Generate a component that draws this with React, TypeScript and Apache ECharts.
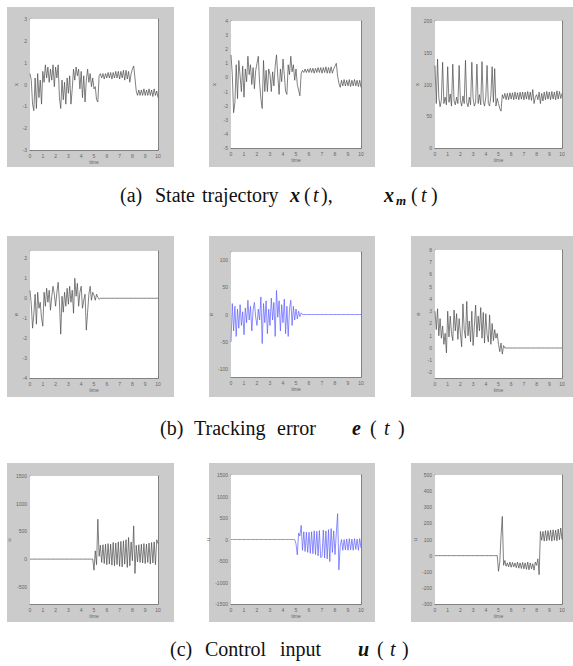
import React, { useEffect, useRef } from 'react';
import * as echarts from 'echarts';

const TIME = [
  0, 0.1, 0.2, 0.3, 0.4, 0.5, 0.6, 0.7, 0.8, 0.9,
  1, 1.1, 1.2, 1.3, 1.4, 1.5, 1.6, 1.7, 1.8, 1.9,
  2, 2.1, 2.2, 2.3, 2.4, 2.5, 2.6, 2.7, 2.8, 2.9,
  3, 3.1, 3.2, 3.3, 3.4, 3.5, 3.6, 3.7, 3.8, 3.9,
  4, 4.1, 4.2, 4.3, 4.4, 4.5, 4.6, 4.7, 4.8, 4.9,
  5, 5.1, 5.2, 5.3, 5.4, 5.5, 5.6, 5.7, 5.8, 5.9,
  6, 6.1, 6.2, 6.3, 6.4, 6.5, 6.6, 6.7, 6.8, 6.9,
  7, 7.1, 7.2, 7.3, 7.4, 7.5, 7.6, 7.7, 7.8, 7.9,
  8, 8.1, 8.2, 8.3, 8.4, 8.5, 8.6, 8.7, 8.8, 8.9,
  9, 9.1, 9.2, 9.3, 9.4, 9.5, 9.6, 9.7, 9.8, 9.9,
  10,
];

const X_TICKS = [0, 1, 2, 3, 4, 5, 6, 7, 8, 9, 10];

// (a) state trajectory
const STATE_1 = [
  0.5, 0.2, -0.9, -1.2, 0.3, -1.1, 0.5, -0.6, 0.2, -0.9,
  0.6, 0.1, 0.9, 0.3, 0.8, 0.1, 0.7, 0.2, 0.9, -0.1,
  0.8, 0.3, 0.9, -0.6, -1.1, 0.2, -0.7, 0.1, -0.9, 0.3,
  -0.4, 0.4, -0.9, -0.2, 0.7, 0.2, 0.8, 0.4, 0.7, -0.2,
  0.6, -0.6, 0.4, -0.8, 0.2, 0.7, 0.1, 0.5, -0.1, 0.3,
  -0.2, -0.1, -0.7, -0.8, 0.4, 0.5, 0.3, 0.5, 0.25, 0.5,
  0.3, 0.55, 0.3, 0.55, 0.25, 0.55, 0.3, 0.6, 0.3, 0.6,
  0.25, 0.6, 0.3, 0.65, 0.2, 0.65, 0.25, 0.6, 0.1, 0.5,
  0.7, 0.85, 0.3, -0.3, -0.5, -0.25, -0.5, -0.25, -0.5, -0.2,
  -0.5, -0.25, -0.5, -0.2, -0.5, -0.25, -0.55, -0.2, -0.5, -0.3,
  -0.6,
];
const STATE_2 = [
  1.6, 0.2, -2.5, -1.8, 0.9, -1.5, 1.2, 0.1, -1.0, 0.8,
  -1.4, 0.6, -0.3, 1.5, 0.2, 0.9, -0.5, 0.7, -0.8, 0.5,
  1.0, 1.5, -0.4, -1.5, -2.2, 1.2, -1.0, 0.5, -1.0, 0.6,
  0.2, -1.0, 0.4, -0.6, 0.8, 1.6, 0.1, -1.2, 0.6, -0.3,
  1.3, 0.2, -1.0, -1.2, 0.9, 0.2, 1.5, 0.4, 0.9, -0.2,
  0.6, -0.5, -0.9, -1.3, 0.3, 0.5, 0.35, 0.6, 0.35, 0.6,
  0.35, 0.65, 0.35, 0.65, 0.3, 0.65, 0.35, 0.7, 0.35, 0.7,
  0.3, 0.7, 0.35, 0.75, 0.3, 0.7, 0.3, 0.75, 0.3, 0.6,
  0.8, 1.0, 0.1, -0.4, -0.7, -0.2, -0.6, -0.15, -0.6, -0.2,
  -0.6, -0.15, -0.65, -0.2, -0.6, -0.15, -0.6, -0.2, -0.65, -0.2,
  -0.7,
];
const STATE_3 = [
  130, 70, 140, 80, 65, 75, 135, 70, 80, 68,
  128, 72, 85, 66, 132, 74, 68, 80, 70, 130,
  75, 66, 82, 70, 138, 72, 65, 80, 68, 135,
  78, 66, 72, 132, 70, 84, 68, 136, 74, 66,
  80, 130, 70, 66, 82, 128, 72, 125, 66, 78,
  70, 62, 58, 84, 78, 86, 76, 86, 76, 87,
  77, 87, 76, 88, 77, 87, 76, 88, 77, 88,
  76, 88, 77, 89, 76, 88, 75, 92, 70, 80,
  84, 76, 88, 70, 86, 74, 88, 76, 89, 77,
  88, 76, 89, 77, 88, 76, 90, 77, 89, 78,
  86,
];

// (b) tracking error
const ERROR_1 = [
  0.4, -0.3, -1.5, -0.8, 0.2, -1.3, 0.3, -0.5, -0.2, -1.0,
  -1.4, 0.3, -0.4, 0.5, -0.2, 0.4, -0.6, 0.1, 0.6, 0.2,
  -0.4, 0.3, 0.8, -0.2, -1.8, 0.1, -0.7, 0.3, -0.4, 0.5,
  -0.3, 0.6, -0.2, 0.4, -0.75, 1.0, 0.1, 0.75, -0.4, 0.3,
  0.6, -0.5, -0.1, 0.2, -1.6, -0.7, 0.2, 0.6, -0.1, 0.3,
  0.15, -0.1, 0.2, 0.05, -0.05, 0, 0, 0, 0, 0,
  0, 0, 0, 0, 0, 0, 0, 0, 0, 0,
  0, 0, 0, 0, 0, 0, 0, 0, 0, 0,
  0, 0, 0, 0, 0, 0, 0, 0, 0, 0,
  0, 0, 0, 0, 0, 0, 0, 0, 0, 0,
  0,
];
const ERROR_2 = [
  -50, 20, -30, 15, -40, 10, -25, 18, -20, 5,
  -37, 12, -15, 26, -10, 15, -30, 8, 22, -5,
  -20, 10, -10, 32, -53, 20, -15, 25, -35, 10,
  -20, 30, -10, 22, -40, 44, -5, 25, -30, 18,
  -15, 28, -35, 15, -40, 10, 26, -20, 15, -10,
  10, -8, 6, -4, 3, 0, 0, 0, 0, 0,
  0, 0, 0, 0, 0, 0, 0, 0, 0, 0,
  0, 0, 0, 0, 0, 0, 0, 0, 0, 0,
  0, 0, 0, 0, 0, 0, 0, 0, 0, 0,
  0, 0, 0, 0, 0, 0, 0, 0, 0, 0,
  0,
];
const ERROR_3 = [
  3.0, 1.5, 3.2, 1.0, 2.4, 0.8, 1.8, 0.3, 1.2, -0.4,
  3.0, 0.9, 2.6, 1.2, 0.6, 3.1, 1.4, 2.8, 0.7, 2.4,
  1.2, 0.1, 3.6, 1.5, 0.8, 3.8, 1.0, 2.2, 0.5, 3.0,
  0.2, 1.8, 3.5, 0.9, 2.6, 1.4, 3.3, 0.8, 2.9, 0.4,
  2.8, 1.1, 0.5, 2.7, 0.3, 2.0, 0.6, 1.5, 0.8, 1.2,
  0.3, -0.3, 0.4, -0.5, 0.2, 0, 0, 0, 0, 0,
  0, 0, 0, 0, 0, 0, 0, 0, 0, 0,
  0, 0, 0, 0, 0, 0, 0, 0, 0, 0,
  0, 0, 0, 0, 0, 0, 0, 0, 0, 0,
  0, 0, 0, 0, 0, 0, 0, 0, 0, 0,
  0,
];

// (c) control input
const INPUT_1 = [
  0, 0, 0, 0, 0, 0, 0, 0, 0, 0,
  0, 0, 0, 0, 0, 0, 0, 0, 0, 0,
  0, 0, 0, 0, 0, 0, 0, 0, 0, 0,
  0, 0, 0, 0, 0, 0, 0, 0, 0, 0,
  0, 0, 0, 0, 0, 0, 0, 0, 0, 0,
  -200, 150, -100, 720, 50, 250, -60, 260, -80, 270,
  -100, 280, -90, 270, -110, 300, -120, 290, -100, 310,
  -130, 320, -140, 330, -90, 350, -150, 390, -120, 310,
  -30, 600, -260, 250, -50, 260, -60, 270, -70, 280,
  -80, 270, -60, 290, -90, 300, -70, 310, -100, 350,
  280,
];
const INPUT_2 = [
  0, 0, 0, 0, 0, 0, 0, 0, 0, 0,
  0, 0, 0, 0, 0, 0, 0, 0, 0, 0,
  0, 0, 0, 0, 0, 0, 0, 0, 0, 0,
  0, 0, 0, 0, 0, 0, 0, 0, 0, 0,
  0, 0, 0, 0, 0, 0, 0, 0, 0, 0,
  -100, -360, 150, 80, 330, -250, 180, -280, 170, -300,
  170, -320, 180, -330, 200, -350, 190, -380, 210, -420,
  -400, 220, -430, 200, -450, 230, -515, 254, -300, 200,
  -350, 150, 600, -708, -150, 0, -250, 0, -240, 10,
  -250, 20, -240, 10, -250, 20, -230, 10, -250, 20,
  -200,
];
const INPUT_3 = [
  0, 0, 0, 0, 0, 0, 0, 0, 0, 0,
  0, 0, 0, 0, 0, 0, 0, 0, 0, 0,
  0, 0, 0, 0, 0, 0, 0, 0, 0, 0,
  0, 0, 0, 0, 0, 0, 0, 0, 0, 0,
  0, 0, 0, 0, 0, 0, 0, 0, 0, 0,
  -97, -40, 120, 243, -60, -30, -66, -45, -70, -40,
  -72, -42, -70, -45, -75, -40, -78, -45, -80, -42,
  -82, -45, -85, -40, -88, -45, -82, -50, -90, -40,
  -60, -20, -118, 150, 95, 150, 90, 155, 92, 155,
  95, 158, 90, 160, 95, 158, 92, 165, 98, 171,
  100,
];

const Y_TICKS_1 = [-3, -2, -1, 0, 1, 2, 3];
const Y_TICKS_2 = [-5, -4, -3, -2, -1, 0, 1, 2, 3, 4];
const Y_TICKS_3 = [0, 50, 100, 150, 200];
const Y_TICKS_4 = [-4, -3, -2, -1, 0, 1, 2];
const Y_TICKS_5 = [-100, -50, 0, 50, 100];
const Y_TICKS_6 = [-2, -1, 0, 1, 2, 3, 4, 5, 6, 7, 8];
const Y_TICKS_7 = [-500, 0, 500, 1000, 1500];
const Y_TICKS_8 = [-1500, -1000, -500, 0, 500, 1000, 1500];
const Y_TICKS_9 = [-300, -200, -100, 0, 100, 200, 300, 400, 500];

const BLACK = '#4a4a4a';
const BLUE = '#5c5cff';

const PANELS = [
  { data: STATE_1, ticks: Y_TICKS_1, min: -3, max: 3, name: 'x', color: BLACK, grid: { left: 30, top: 19, width: 128, height: 131 }, nameGap: 10 },
  { data: STATE_2, ticks: Y_TICKS_2, min: -5, max: 4, name: 'x', color: BLACK, grid: { left: 231, top: 21, width: 130, height: 127 }, nameGap: 14 },
  { data: STATE_3, ticks: Y_TICKS_3, min: 0, max: 200, name: 'x', color: BLACK, grid: { left: 435, top: 21, width: 127, height: 127 }, nameGap: 15 },
  { data: ERROR_1, ticks: Y_TICKS_4, min: -4, max: 2.37, name: 'e', color: BLACK, grid: { left: 30, top: 251, width: 128, height: 127 }, nameGap: 10 },
  { data: ERROR_2, ticks: Y_TICKS_5, min: -114, max: 114, name: 'e', color: BLUE, grid: { left: 231, top: 252, width: 130, height: 125 }, nameGap: 13 },
  { data: ERROR_3, ticks: Y_TICKS_6, min: -2.45, max: 8, name: 'e', color: BLACK, grid: { left: 435, top: 250, width: 127, height: 128 }, nameGap: 14 },
  { data: INPUT_1, ticks: Y_TICKS_7, min: -810, max: 1500, name: 'u', color: BLACK, grid: { left: 30, top: 476, width: 128, height: 128 }, nameGap: 17 },
  { data: INPUT_2, ticks: Y_TICKS_8, min: -1500, max: 1500, name: 'u', color: BLUE, grid: { left: 231, top: 475, width: 130, height: 129 }, nameGap: 15 },
  { data: INPUT_3, ticks: Y_TICKS_9, min: -300, max: 500, name: 'u', color: BLACK, grid: { left: 435, top: 475, width: 127, height: 129 }, nameGap: 16 },
];

const BACKGROUNDS = [
  [7, 7, 167, 160], [209, 7, 166, 160], [411, 7, 162, 160],
  [7, 236, 167, 161], [209, 236, 166, 161], [411, 236, 162, 161],
  [7, 463, 167, 159], [209, 463, 166, 159], [411, 463, 162, 159],
];

const SERIF = '"Liberation Serif", "Times New Roman", serif';
const FS = 20;

type Piece = { t: string; x: number; y: number; w?: string; s?: string; size?: number };
const CAPTIONS: Piece[] = [
  { t: '(a)', x: 120, y: 195 },
  { t: 'State', x: 155, y: 195 },
  { t: 'trajectory', x: 202, y: 195 },
  { t: 'x', x: 290, y: 195, w: 'bold', s: 'italic' },
  { t: '(', x: 304, y: 195 },
  { t: 't', x: 313, y: 195, s: 'italic' },
  { t: '),', x: 321, y: 195 },
  { t: 'x', x: 384, y: 195, w: 'bold', s: 'italic' },
  { t: 'm', x: 396, y: 200, w: 'bold', s: 'italic', size: 13 },
  { t: '(', x: 411, y: 195 },
  { t: 't', x: 421, y: 195, s: 'italic' },
  { t: ')', x: 431, y: 195 },

  { t: '(b)', x: 160, y: 428 },
  { t: 'Tracking', x: 194, y: 428 },
  { t: 'error', x: 277, y: 428 },
  { t: 'e', x: 352, y: 428, w: 'bold', s: 'italic' },
  { t: '(', x: 370, y: 428 },
  { t: 't', x: 384, y: 428, s: 'italic' },
  { t: ')', x: 398, y: 428 },

  { t: '(c)', x: 170, y: 649 },
  { t: 'Control', x: 205, y: 649 },
  { t: 'input', x: 280, y: 649 },
  { t: 'u', x: 358, y: 649, w: 'bold', s: 'italic' },
  { t: '(', x: 377, y: 649 },
  { t: 't', x: 390, y: 649, s: 'italic' },
  { t: ')', x: 402, y: 649 },
];

const AXIS_COLOR = '#707070';
const LABEL_STYLE = { fontSize: 5, color: '#666', fontFamily: '"Liberation Sans", Arial, sans-serif' };
const fmt = (v: number) => String(v);

function buildOption() {
  const grid: any[] = [];
  const xAxis: any[] = [];
  const yAxis: any[] = [];
  const series: any[] = [];
  PANELS.forEach((p, i) => {
    grid.push({ ...p.grid, show: true, backgroundColor: '#ffffff', borderWidth: 0, z: 1 });
    const lineCommon = { show: true, onZero: false, lineStyle: { color: AXIS_COLOR, width: 0.8 } };
    const tickCommon = { show: true, inside: true, length: 2, lineStyle: { color: AXIS_COLOR, width: 0.6 } };
    xAxis.push({
      type: 'value', gridIndex: i, position: 'bottom', min: 0, max: 10, interval: 1,
      axisLine: lineCommon, axisTick: tickCommon,
      axisLabel: { ...LABEL_STYLE, margin: 3, customValues: X_TICKS, formatter: fmt },
      splitLine: { show: false },
      name: 'time', nameLocation: 'middle', nameGap: 9, nameTextStyle: { ...LABEL_STYLE },
    });
    xAxis.push({
      type: 'value', gridIndex: i, position: 'top', min: 0, max: 10, interval: 1,
      axisLine: lineCommon, axisTick: tickCommon, axisLabel: { show: false }, splitLine: { show: false },
    });
    yAxis.push({
      type: 'value', gridIndex: i, position: 'left', min: p.min, max: p.max,
      axisLine: lineCommon, axisTick: { ...tickCommon, customValues: p.ticks },
      axisLabel: { ...LABEL_STYLE, margin: 3, customValues: p.ticks, formatter: fmt, showMinLabel: true, showMaxLabel: true },
      splitLine: { show: false },
      name: p.name, nameLocation: 'middle', nameGap: p.nameGap, nameRotate: 90,
      nameTextStyle: { ...LABEL_STYLE, fontSize: 6 },
    });
    yAxis.push({
      type: 'value', gridIndex: i, position: 'right', min: p.min, max: p.max,
      axisLine: lineCommon, axisTick: { ...tickCommon, customValues: p.ticks },
      axisLabel: { show: false }, splitLine: { show: false },
    });
    series.push({
      type: 'line', xAxisIndex: 2 * i, yAxisIndex: 2 * i,
      data: TIME.map((t, k) => [t, p.data[k]]),
      showSymbol: false, symbol: 'none', silent: true, clip: true,
      lineStyle: { color: p.color, width: 0.7 },
      z: 3,
    });
  });

  const graphic: any[] = BACKGROUNDS.map(([x, y, w, h]) => ({
    type: 'rect', z: -10, silent: true,
    shape: { x, y, width: w, height: h },
    style: { fill: '#cbcbcb' },
  }));
  CAPTIONS.forEach((c) => {
    graphic.push({
      type: 'text', x: c.x, y: c.y, silent: true, z: 5,
      style: {
        text: c.t,
        font: `${c.s || 'normal'} ${c.w || 'normal'} ${c.size || FS}px ${SERIF}`,
        fill: '#111',
        textAlign: 'left', textVerticalAlign: 'middle',
        align: 'left', verticalAlign: 'middle',
      },
    });
  });

  return { animation: false, backgroundColor: '#ffffff', grid, xAxis, yAxis, series, graphic };
}

export default function App() {
  const ref = useRef<HTMLDivElement>(null);
  useEffect(() => {
    if (!ref.current) return;
    const chart = echarts.init(ref.current, undefined, { renderer: 'svg' });
    chart.setOption(buildOption() as any);
    return () => chart.dispose();
  }, []);
  return (
    <div
      ref={ref}
      style={{ position: 'fixed', left: 0, top: 0, width: 573, height: 666, background: '#fff' }}
    />
  );
}
